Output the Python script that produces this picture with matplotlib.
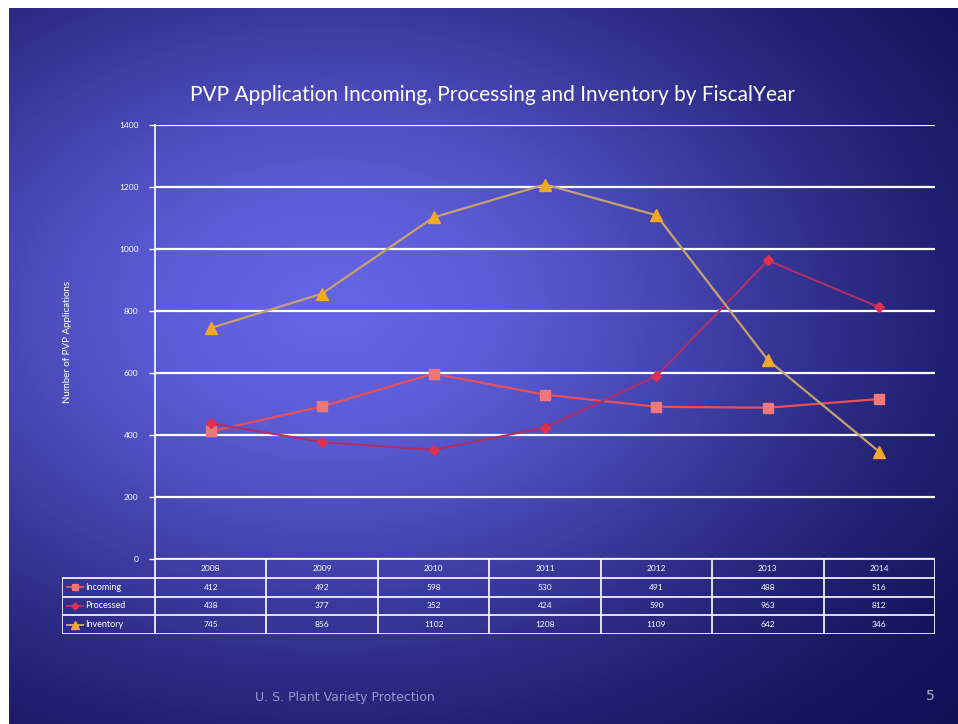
import matplotlib.pyplot as plt
import numpy as np

years = ['2008', '2009', '2010', '2011', '2012', '2013', '2014']
incoming = [412, 492, 598, 530, 491, 488, 516]
processed = [438, 377, 352, 424, 590, 963, 812]
inventory = [745, 856, 1102, 1208, 1109, 642, 346]
series_names = ['Incoming', 'Processed', 'Inventory']
y_ticks = [0, 200, 400, 600, 800, 1000, 1200, 1400]

W, H = 958, 724
plt.rcParams['font.family'] = ['Lato', 'DejaVu Sans']

fig = plt.figure(figsize=(W / 100, H / 100), dpi=100, facecolor='white')


def px_axes(x0, y0, x1, y1, **kw):
    # pixel box (top-left origin) -> figure axes
    return fig.add_axes([x0 / W, 1 - y1 / H, (x1 - x0) / W, (y1 - y0) / H], **kw)


# slide background gradient
bg = px_axes(9, 8, W, H)
gx, gy = np.meshgrid(np.linspace(9, W, 300), np.linspace(8, H, 230))
w = np.exp(-((gx - 330) / 540) ** 2 - ((gy - 310) / 380) ** 2)
dark = np.array([8, 8, 72]) / 255
light = np.array([100, 100, 228]) / 255
img = dark + (light - dark) * w[..., None]
bg.imshow(img, extent=[9, W, H, 8], aspect='auto', interpolation='bilinear')
bg.set_xlim(9, W)
bg.set_ylim(H, 8)
bg.axis('off')

# main chart
ax = px_axes(155, 125, 935, 559)
ax.patch.set_alpha(0)
x = np.arange(len(years))
ax.plot(x, incoming, color='#e8505a', lw=1.6, marker='s', ms=7,
        mfc='#f07878', mec='#f07878', zorder=3)
ax.plot(x, processed, color='#b02e68', lw=1.5, marker='D', ms=5,
        mfc='#e03050', mec='#e03050', zorder=3)
ax.plot(x, inventory, color='#c8a070', lw=1.6, marker='^', ms=8,
        mfc='#f0a828', mec='#f0a828', zorder=3)
ax.set_xlim(-0.5, len(years) - 0.5)
ax.set_ylim(0, 1400)
ax.set_yticks(y_ticks)
ax.set_yticklabels([str(t) for t in y_ticks], fontsize=6, color='white')
ax.set_xticks([])
ax.yaxis.grid(True, color='white', lw=1.6)
ax.set_axisbelow(True)
for s in ['top', 'right', 'bottom']:
    ax.spines[s].set_visible(False)
ax.spines['left'].set_color('white')
ax.spines['left'].set_linewidth(1.2)
ax.tick_params(axis='y', colors='white', length=4, width=1, pad=8)
ax.set_ylabel('Number of PVP Applications', color='white', fontsize=7, labelpad=34)

fig.text(492 / W, 1 - 95 / H,
         'PVP Application Incoming, Processing and Inventory by FiscalYear',
         color='white', fontsize=15, ha='center', va='center')

# data table under the chart
tax = px_axes(62, 559, 935, 634)
tax.patch.set_alpha(0)
left = -0.5 - 93 / 111.43
tax.set_xlim(left, len(years) - 0.5)
tax.set_ylim(4, 0)
tax.axis('off')
tc = 'white'
tax.hlines([0], -0.5, len(years) - 0.5, color=tc, lw=1.2)
tax.hlines([1, 2, 3, 4], left, len(years) - 0.5, color=tc, lw=1.2)
tax.vlines(np.arange(len(years) + 1) - 0.5, 0, 4, color=tc, lw=1.2)
tax.vlines([left], 1, 4, color=tc, lw=1.2)
for i, yr in enumerate(years):
    tax.text(i, 0.5, yr, color='white', fontsize=6, ha='center', va='center')
rows = [incoming, processed, inventory]
styles = [('#e8505a', 's', '#f07878', 5), ('#b02e68', 'D', '#e03050', 3.5),
          ('#c8a070', '^', '#f0a828', 6)]
for r, (name, vals, st) in enumerate(zip(series_names, rows, styles)):
    yc = r + 1.5
    for i, v in enumerate(vals):
        tax.text(i, yc, str(v), color='white', fontsize=6, ha='center', va='center')
    tax.plot([-1.29, -1.15], [yc, yc], color=st[0], lw=1.4)
    tax.plot([-1.22], [yc], marker=st[1], color=st[2], ms=st[3])
    tax.text(-1.13, yc, name, color='white', fontsize=6.5, ha='left', va='center')

# footer
fig.text(345 / W, 1 - 698 / H, 'U. S. Plant Variety Protection', color='#9a9ac8',
         fontsize=9, ha='center', va='center', family='DejaVu Sans')
fig.text(930 / W, 1 - 696 / H, '5', color='#b0b0d0', fontsize=10,
         ha='center', va='center', family='DejaVu Sans')

fig.savefig('out.png', dpi=100, facecolor='white')
